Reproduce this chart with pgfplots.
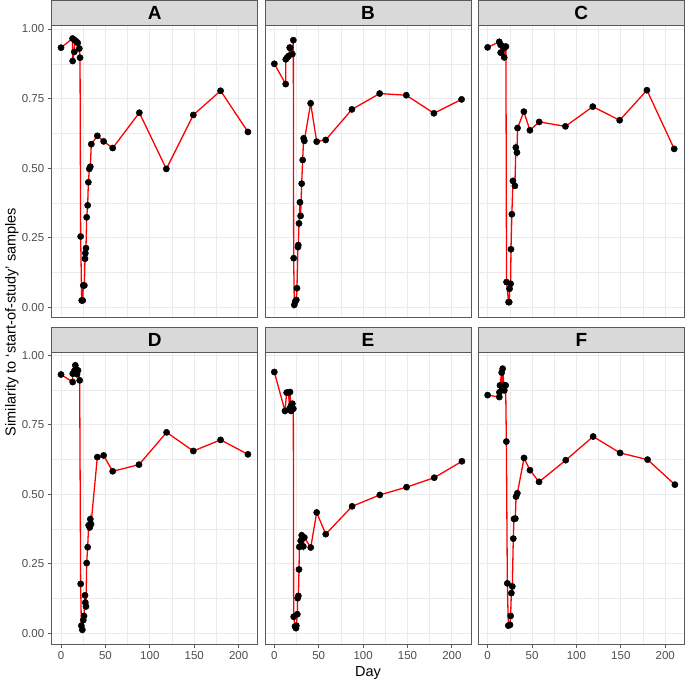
\documentclass[border=0pt]{standalone}
\usepackage{fontspec}
\setmainfont{Liberation Sans}
\usepackage{pgfplots}
\usepackage{pgfplotstable}
\pgfplotsset{compat=1.18}
\definecolor{gridc}{HTML}{EBEBEB}
\definecolor{framec}{HTML}{5A5A5A}
\definecolor{stripc}{HTML}{D9D9D9}
\definecolor{tickc}{HTML}{4D4D4D}
\definecolor{redl}{HTML}{FF0000}

\pgfplotstableread{
day val
0 0.933
13.0 0.966
13.1 0.885
15.0 0.918
15.4 0.960
17.3 0.955
18.8 0.950
20.6 0.930
21.4 0.897
22.1 0.254
23.3 0.024
24.4 0.024
25.1 0.078
26.3 0.078
27.0 0.174
27.4 0.194
28.1 0.212
28.9 0.323
30.0 0.366
30.8 0.449
31.9 0.497
33.0 0.505
34.1 0.586
40.9 0.616
48.0 0.596
58.2 0.572
88.2 0.699
118.6 0.497
149.0 0.691
179.7 0.778
210.5 0.630
}\dataA

\pgfplotstableread{
day val
0 0.875
12.8 0.802
12.9 0.891
14.6 0.898
16.1 0.903
17.4 0.933
17.6 0.933
20.3 0.910
21.4 0.960
21.8 0.176
22.5 0.008
23.6 0.020
24.8 0.026
25.5 0.068
26.6 0.216
27.0 0.223
27.8 0.301
28.9 0.377
29.6 0.328
30.8 0.444
31.9 0.529
33.0 0.607
33.8 0.598
40.9 0.733
47.7 0.595
57.8 0.601
87.4 0.711
118.6 0.768
148.6 0.762
179.7 0.697
210.9 0.747
}\dataB

\pgfplotstableread{
day val
0 0.934
13.1 0.954
14.6 0.943
14.7 0.915
17.6 0.937
18.7 0.898
19.1 0.933
20.6 0.937
21.3 0.090
23.6 0.018
24.3 0.018
24.7 0.066
25.9 0.084
26.3 0.208
27.3 0.334
28.5 0.454
30.7 0.436
31.8 0.574
33.0 0.556
33.7 0.644
40.8 0.703
47.6 0.636
58.1 0.666
87.6 0.650
118.4 0.721
148.7 0.672
179.4 0.780
210.1 0.569
}\dataC

\pgfplotstableread{
day val
0 0.931
13.1 0.904
13.2 0.934
15.0 0.944
16.1 0.964
16.9 0.950
18.0 0.932
19.1 0.946
21.0 0.910
22.1 0.178
22.9 0.028
24.0 0.013
25.1 0.048
25.9 0.063
27.0 0.137
27.4 0.111
28.1 0.097
28.9 0.253
30.0 0.310
31.1 0.389
32.3 0.381
33.0 0.411
33.8 0.393
40.9 0.634
48.0 0.640
58.2 0.583
87.8 0.607
118.9 0.723
149.0 0.656
179.7 0.696
210.5 0.644
}\dataD

\pgfplotstableread{
day val
0 0.940
12.0 0.800
13.9 0.866
15.8 0.866
17.3 0.810
17.7 0.868
18.8 0.800
19.5 0.824
20.3 0.826
21.4 0.808
21.8 0.060
23.3 0.025
24.4 0.019
24.8 0.028
25.9 0.069
26.3 0.127
27.1 0.135
27.8 0.230
28.2 0.311
29.7 0.333
30.8 0.353
32.7 0.313
33.8 0.345
41.0 0.309
47.7 0.435
57.9 0.357
87.6 0.457
118.8 0.498
148.9 0.526
180.1 0.560
211.3 0.619
}\dataE

\pgfplotstableread{
day val
0 0.857
13.2 0.850
13.3 0.867
13.9 0.892
15.8 0.938
16.5 0.878
16.9 0.952
18.8 0.874
18.9 0.892
20.3 0.892
21.1 0.690
22.2 0.180
23.3 0.028
25.2 0.031
25.9 0.063
26.7 0.145
27.8 0.169
28.9 0.341
29.7 0.412
31.2 0.413
32.0 0.492
33.5 0.504
41.0 0.631
47.7 0.587
57.9 0.545
88.0 0.623
118.8 0.708
149.2 0.649
180.1 0.625
210.9 0.535
}\dataF

\pgfplotsset{
  panel/.style={
    scale only axis, width=206pt, height=292pt, anchor=south west,
    xmin=-10.5, xmax=221.5, ymin=-0.038, ymax=1.012,
    xtick={0,50,100,150,200}, ytick={0,0.25,0.5,0.75,1},
    minor xtick={25,75,125,175}, minor ytick={0.125,0.375,0.625,0.875},
    grid=both,
    major grid style={draw=gridc, line width=0.9pt},
    minor grid style={draw=gridc, line width=0.45pt},
    axis line style={draw=framec, line width=0.9pt},
    tick style={draw=framec, line width=0.9pt},
    tick align=outside, major tick length=4pt, minor tick length=0pt,
    xtick pos=left, ytick pos=left,
    ticklabel style={font=\fontsize{11.5}{12}\selectfont, text=tickc},
    /pgf/number format/assume math mode=true,
    scaled y ticks=false,
    yticklabel style={/pgf/number format/.cd, fixed, fixed zerofill, precision=2},
    xticklabel style={/pgf/number format/fixed},
  },
  noxlab/.style={xticklabels={}, xmajorticks=false},
  noylab/.style={yticklabels={}, ymajorticks=false},
  series/.style={redl, line width=1.3pt, mark=*, mark size=3.1pt,
    mark options={fill=black, draw=black, solid, line width=0.5pt}},
}

\newcommand{\strip}[2]{%
  \draw[fill=stripc, draw=framec, line width=0.9pt] (#1nw) rectangle ([yshift=25pt]#1ne);
  \node[font=\fontsize{19}{19}\selectfont\bfseries, text=black] at ([yshift=12.5pt]#1n) {#2};
}

\begin{document}
\begin{tikzpicture}
\path[use as bounding box] (0pt,0pt) rectangle (685pt,685pt);

% Row 1
\begin{axis}[panel, noxlab, at={(51.7pt,367.3pt)}]
\addplot[series] table[x=day,y=val] {\dataA};
\coordinate (Anw) at (rel axis cs:0,1);
\coordinate (Ane) at (rel axis cs:1,1);
\coordinate (An) at (rel axis cs:0.5,1);
\end{axis}
\strip{A}{A}

\begin{axis}[panel, noxlab, noylab, at={(265pt,367.3pt)}]
\addplot[series] table[x=day,y=val] {\dataB};
\coordinate (Bnw) at (rel axis cs:0,1);
\coordinate (Bne) at (rel axis cs:1,1);
\coordinate (Bn) at (rel axis cs:0.5,1);
\end{axis}
\strip{B}{B}

\begin{axis}[panel, noxlab, noylab, at={(478.3pt,367.3pt)}]
\addplot[series] table[x=day,y=val] {\dataC};
\coordinate (Cnw) at (rel axis cs:0,1);
\coordinate (Cne) at (rel axis cs:1,1);
\coordinate (Cn) at (rel axis cs:0.5,1);
\end{axis}
\strip{C}{C}

% Row 2
\begin{axis}[panel, at={(51.7pt,41pt)}]
\addplot[series] table[x=day,y=val] {\dataD};
\coordinate (Dnw) at (rel axis cs:0,1);
\coordinate (Dne) at (rel axis cs:1,1);
\coordinate (Dn) at (rel axis cs:0.5,1);
\end{axis}
\strip{D}{D}

\begin{axis}[panel, noylab, at={(265pt,41pt)}]
\addplot[series] table[x=day,y=val] {\dataE};
\coordinate (Enw) at (rel axis cs:0,1);
\coordinate (Ene) at (rel axis cs:1,1);
\coordinate (En) at (rel axis cs:0.5,1);
\end{axis}
\strip{E}{E}

\begin{axis}[panel, noylab, at={(478.3pt,41pt)}]
\addplot[series] table[x=day,y=val] {\dataF};
\coordinate (Fnw) at (rel axis cs:0,1);
\coordinate (Fne) at (rel axis cs:1,1);
\coordinate (Fn) at (rel axis cs:0.5,1);
\end{axis}
\strip{F}{F}

\node[font=\fontsize{14.5}{15}\selectfont] at (368pt,12pt) {Day};
\node[font=\fontsize{14.5}{15}\selectfont, rotate=90] at (12pt,363pt) {Similarity to ‘start-of-study’ samples};
\end{tikzpicture}
\end{document}
